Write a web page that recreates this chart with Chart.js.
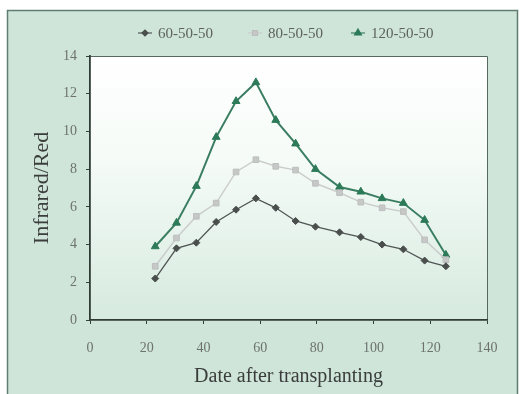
<!DOCTYPE html>
<html>
<head>
<meta charset="utf-8">
<script src="https://cdn.jsdelivr.net/npm/chart.js@4/dist/chart.umd.min.js"></script>
<style>
  html, body { margin: 0; padding: 0; background: #ffffff; }
  #wrap { width: 523px; height: 394px; }
</style>
</head>
<body>
<div id="wrap"><canvas id="c" width="523" height="394"></canvas></div>
<script>
// Days after transplanting at which the ratio was measured
const days = [23, 30.5, 37.5, 44.5, 51.5, 58.5, 65.5, 72.5, 79.5, 88, 95.5, 103, 110.5, 118, 125.5];

// Infrared/Red ratio for each N-P-K treatment
const npk60  = [2.2, 3.8, 4.1, 5.2, 5.85, 6.45, 5.95, 5.25, 4.95, 4.65, 4.4, 4.0, 3.75, 3.15, 2.85];
const npk80  = [2.85, 4.35, 5.5, 6.2, 7.85, 8.5, 8.15, 7.95, 7.25, 6.75, 6.25, 5.95, 5.75, 4.25, 3.2];
const npk120 = [3.9, 5.15, 7.1, 9.7, 11.6, 12.6, 10.6, 9.35, 8.0, 7.05, 6.8, 6.45, 6.2, 5.3, 3.45];

const seriesLabels = ['60-50-50', '80-50-50', '120-50-50'];
const xTicks = [0, 20, 40, 60, 80, 100, 120, 140];
const yTicks = [0, 2, 4, 6, 8, 10, 12, 14];

const toPoints = (vals) => vals.map((v, i) => ({ x: days[i], y: v }));

const serif = '"Liberation Serif", "Times New Roman", serif';

// Panel background, plot area fill and frame
const backdrop = {
  id: 'backdrop',
  beforeDraw(chart) {
    const ctx = chart.ctx;
    const a = chart.chartArea;
    ctx.save();
    ctx.fillStyle = '#ffffff';
    ctx.fillRect(0, 0, chart.width, chart.height);
    ctx.fillStyle = '#cfe5d9';
    ctx.fillRect(7, 10, 511, chart.height);
    ctx.strokeStyle = '#5f7d70';
    ctx.lineWidth = 1.5;
    ctx.strokeRect(7.5, 10.5, 510, chart.height + 5);
    const g = ctx.createLinearGradient(0, a.top, 0, a.bottom);
    g.addColorStop(0, '#ffffff');
    g.addColorStop(0.4, '#f5fbf7');
    g.addColorStop(1, '#d6eadf');
    ctx.fillStyle = g;
    ctx.fillRect(a.left, a.top, a.right - a.left, a.bottom - a.top);
    ctx.strokeStyle = '#56695f';
    ctx.lineWidth = 1;
    ctx.beginPath();
    ctx.moveTo(a.left, a.top + 0.5);
    ctx.lineTo(a.right + 0.5, a.top + 0.5);
    ctx.lineTo(a.right + 0.5, a.bottom);
    ctx.stroke();
    ctx.restore();
  }
};

// Legend row above the plot: marker then label for each series
const legendRow = {
  id: 'legendRow',
  afterDraw(chart) {
    const ctx = chart.ctx;
    const centers = [145, 255, 358];
    const y = 33;
    ctx.save();
    ctx.font = '15px ' + serif;
    ctx.textBaseline = 'middle';
    ctx.textAlign = 'left';
    chart.data.datasets.forEach((ds, i) => {
      const cx = centers[i];
      ctx.strokeStyle = ds.borderColor;
      ctx.lineWidth = 1.2;
      ctx.beginPath();
      ctx.moveTo(cx - 7, y);
      ctx.lineTo(cx + 7, y);
      ctx.stroke();
      ctx.fillStyle = ds.pointBackgroundColor;
      ctx.strokeStyle = ds.pointBorderColor;
      Chart.helpers.drawPoint(ctx, {
        pointStyle: ds.pointStyle,
        radius: ds.pointRadius - 0.5,
        rotation: 0,
        borderWidth: 1
      }, cx, y);
      ctx.fillStyle = '#5d625f';
      ctx.fillText(ds.label, cx + 13, y + 1);
    });
    ctx.restore();
  }
};

new Chart(document.getElementById('c'), {
  type: 'scatter',
  data: {
    datasets: [
      {
        label: seriesLabels[0],
        data: toPoints(npk60),
        showLine: true,
        borderColor: '#4f5553',
        borderWidth: 1.3,
        pointStyle: 'rectRot',
        pointRadius: 3.5,
        pointBackgroundColor: '#4a4f4d',
        pointBorderColor: '#4a4f4d',
        pointBorderWidth: 1
      },
      {
        label: seriesLabels[1],
        data: toPoints(npk80),
        showLine: true,
        borderColor: '#cbcdcc',
        borderWidth: 1.5,
        pointStyle: 'rect',
        pointRadius: 4,
        pointBackgroundColor: '#c6c8c7',
        pointBorderColor: '#bdbfbe',
        pointBorderWidth: 1
      },
      {
        label: seriesLabels[2],
        data: toPoints(npk120),
        showLine: true,
        borderColor: '#3a7e62',
        borderWidth: 2,
        pointStyle: 'triangle',
        pointRadius: 4.5,
        pointBackgroundColor: '#2c7a58',
        pointBorderColor: '#2c7a58',
        pointBorderWidth: 1
      }
    ]
  },
  options: {
    responsive: false,
    animation: false,
    devicePixelRatio: 1,
    layout: { padding: { left: 0, right: 36, top: 56, bottom: 0 } },
    plugins: {
      legend: { display: false },
      tooltip: { enabled: false }
    },
    scales: {
      x: {
        type: 'linear',
        min: 0,
        max: 140,
        afterFit: (s) => { s.height = 74; },
        afterBuildTicks: (s) => { s.ticks = xTicks.map(v => ({ value: v })); },
        border: { display: true, color: '#2f3b35', width: 1.8 },
        grid: { display: true, drawOnChartArea: false, drawTicks: true, tickLength: 4, color: '#33413a' },
        ticks: { color: '#6d726f', padding: 16, font: { family: serif, size: 14 } },
        title: {
          display: true,
          text: 'Date after transplanting',
          color: '#3a3d3b',
          font: { family: serif, size: 20 },
          padding: { top: 0, bottom: 5 }
        }
      },
      y: {
        type: 'linear',
        min: 0,
        max: 14,
        afterFit: (s) => { s.width = 90; },
        afterBuildTicks: (s) => { s.ticks = yTicks.map(v => ({ value: v })); },
        border: { display: true, color: '#2f3b35', width: 1.8 },
        grid: { display: true, drawOnChartArea: false, drawTicks: true, tickLength: 4, color: '#33413a' },
        ticks: { color: '#6d726f', padding: 9, font: { family: serif, size: 14 } },
        title: {
          display: true,
          text: 'Infrared/Red',
          color: '#3a3d3b',
          font: { family: serif, size: 22 },
          padding: { top: 29, bottom: 0 }
        }
      }
    }
  },
  plugins: [backdrop, legendRow]
});
</script>
</body>
</html>
